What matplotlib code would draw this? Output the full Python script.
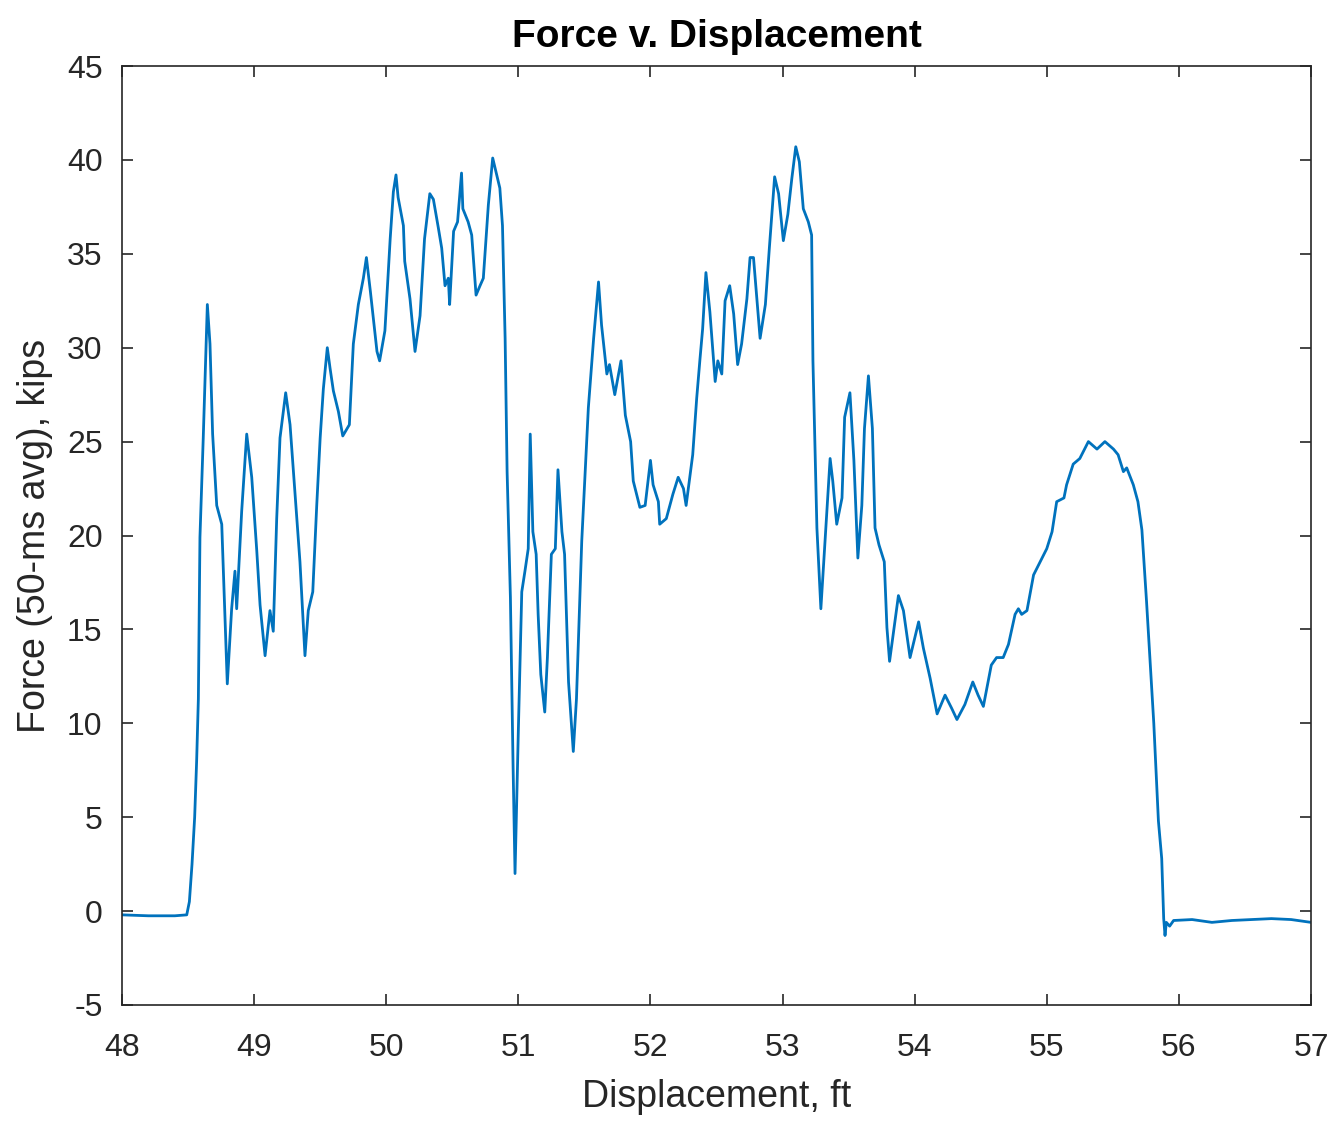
import matplotlib
matplotlib.use("Agg")
import matplotlib.pyplot as plt

# displacement (ft) and force (kips, 50-ms avg)
disp_ft = [
    48.0, 48.2, 48.4, 48.49, 48.51, 48.53, 48.55, 48.565, 48.578, 48.59,
    48.615, 48.646, 48.666, 48.686, 48.717, 48.755, 48.797, 48.83, 48.855, 48.868,
    48.906, 48.944, 48.982, 49.02, 49.045, 49.083, 49.12, 49.145, 49.171, 49.196,
    49.239, 49.272, 49.31, 49.347, 49.385, 49.41, 49.444, 49.474, 49.5, 49.524,
    49.554, 49.575, 49.6, 49.638, 49.671, 49.721, 49.751, 49.789, 49.827, 49.85,
    49.88, 49.93, 49.95, 49.99, 50.03, 50.054, 50.074, 50.09, 50.13, 50.14,
    50.18, 50.218, 50.256, 50.29, 50.33, 50.357, 50.394, 50.42, 50.445, 50.47,
    50.48, 50.51, 50.54, 50.57, 50.58, 50.62, 50.647, 50.68, 50.71, 50.735,
    50.773, 50.806, 50.836, 50.86, 50.88, 50.9, 50.915, 50.94, 50.96, 50.975,
    51.0, 51.026, 51.05, 51.075, 51.09, 51.11, 51.135, 51.15, 51.17, 51.2,
    51.22, 51.25, 51.28, 51.3, 51.33, 51.35, 51.38, 51.416, 51.44, 51.467,
    51.48, 51.505, 51.53, 51.57, 51.607, 51.63, 51.67, 51.69, 51.73, 51.777,
    51.81, 51.85, 51.87, 51.92, 51.96, 52.0, 52.02, 52.06, 52.07, 52.12,
    52.17, 52.21, 52.25, 52.27, 52.32, 52.35, 52.375, 52.395, 52.42, 52.45,
    52.49, 52.51, 52.54, 52.565, 52.6, 52.63, 52.66, 52.69, 52.73, 52.754,
    52.78, 52.83, 52.87, 52.9, 52.94, 52.97, 53.006, 53.04, 53.07, 53.1,
    53.127, 53.157, 53.195, 53.22, 53.23, 53.26, 53.29, 53.32, 53.36, 53.38,
    53.41, 53.45, 53.47, 53.51, 53.54, 53.57, 53.6, 53.62, 53.65, 53.68,
    53.7, 53.73, 53.77, 53.79, 53.81, 53.877, 53.915, 53.965, 54.03, 54.066,
    54.117, 54.17, 54.23, 54.28, 54.32, 54.38, 54.44, 54.48, 54.52, 54.58,
    54.62, 54.67, 54.71, 54.76, 54.785, 54.81, 54.85, 54.9, 54.95, 55.0,
    55.04, 55.075, 55.13, 55.15, 55.2, 55.25, 55.315, 55.38, 55.44, 55.505,
    55.54, 55.58, 55.605, 55.655, 55.69, 55.72, 55.755, 55.78, 55.81, 55.845,
    55.87, 55.885, 55.895, 55.905, 55.93, 55.96, 56.1, 56.25, 56.4, 56.7,
    56.85, 57.0,
]
force_kips = [
    -0.2, -0.25, -0.25, -0.2, 0.5, 2.5, 5.0, 8.0, 11.3, 19.9,
    25.2, 32.3, 30.2, 25.4, 21.6, 20.6, 12.1, 16.1, 18.1, 16.1,
    21.3, 25.4, 23.1, 19.2, 16.3, 13.6, 16.0, 14.9, 20.9, 25.2,
    27.6, 25.9, 22.2, 18.6, 13.6, 16.0, 17.0, 21.6, 25.2, 27.8,
    30.0, 28.9, 27.7, 26.6, 25.3, 25.9, 30.2, 32.3, 33.7, 34.8,
    33.0, 29.8, 29.3, 30.9, 35.8, 38.3, 39.2, 38.0, 36.5, 34.6,
    32.6, 29.8, 31.7, 35.8, 38.2, 37.9, 36.4, 35.3, 33.3, 33.7,
    32.3, 36.2, 36.7, 39.3, 37.4, 36.7, 36.0, 32.8, 33.3, 33.7,
    37.6, 40.1, 39.2, 38.5, 36.5, 30.5, 23.4, 16.7, 7.8, 2.0,
    9.6, 17.0, 18.1, 19.3, 25.4, 20.2, 19.0, 15.8, 12.6, 10.6,
    13.5, 19.0, 19.3, 23.5, 20.2, 19.0, 12.2, 8.5, 11.3, 17.0,
    19.7, 23.2, 26.8, 30.5, 33.5, 31.2, 28.6, 29.1, 27.5, 29.3,
    26.4, 25.0, 22.9, 21.5, 21.6, 24.0, 22.7, 21.8, 20.6, 20.9,
    22.2, 23.1, 22.5, 21.6, 24.3, 27.3, 29.4, 31.0, 34.0, 31.9,
    28.2, 29.3, 28.6, 32.5, 33.3, 31.8, 29.1, 30.2, 32.6, 34.8,
    34.8, 30.5, 32.3, 35.3, 39.1, 38.2, 35.7, 37.1, 39.0, 40.7,
    39.9, 37.4, 36.7, 36.0, 29.3, 20.4, 16.1, 19.5, 24.1, 22.9,
    20.6, 22.0, 26.3, 27.6, 24.0, 18.8, 21.6, 25.7, 28.5, 25.7,
    20.4, 19.5, 18.6, 15.1, 13.3, 16.8, 16.0, 13.5, 15.4, 14.0,
    12.4, 10.5, 11.5, 10.8, 10.2, 11.0, 12.2, 11.5, 10.9, 13.1,
    13.5, 13.5, 14.2, 15.8, 16.1, 15.8, 16.0, 17.9, 18.6, 19.3,
    20.2, 21.8, 22.0, 22.7, 23.8, 24.1, 25.0, 24.6, 25.0, 24.6,
    24.3, 23.4, 23.6, 22.7, 21.8, 20.3, 16.5, 13.5, 10.0, 4.8,
    2.8, -0.4, -1.3, -0.6, -0.8, -0.5, -0.45, -0.6, -0.5, -0.4,
    -0.45, -0.6,
]
x_ticks = [48, 49, 50, 51, 52, 53, 54, 55, 56, 57]
y_ticks = [-5, 0, 5, 10, 15, 20, 25, 30, 35, 40, 45]

plt.rcParams['font.family'] = ['Liberation Sans', 'DejaVu Sans']
plt.rcParams['axes.unicode_minus'] = False
text_color = '#262626'

fig = plt.figure(figsize=(13.35, 11.24), dpi=100)
ax = fig.add_axes([122 / 1335, 1 - 1005 / 1124, (1311 - 122) / 1335, (1005 - 66) / 1124])

ax.plot(disp_ft, force_kips, color='#0072BD', linewidth=2.0,
        solid_joinstyle='round', solid_capstyle='round')

ax.set_xlim(48, 57)
ax.set_ylim(-5, 45)
ax.set_xticks(x_ticks)
ax.set_yticks(y_ticks)
ax.tick_params(direction='in', top=True, right=True, length=8, width=1.2,
               colors=text_color, labelsize=23)
ax.tick_params(axis='x', pad=20)
ax.tick_params(axis='y', pad=14)
for spine in ax.spines.values():
    spine.set_color(text_color)
    spine.set_linewidth(1.2)

ax.set_xlabel('Displacement, ft', fontsize=27, color=text_color, labelpad=12)
ax.set_ylabel('Force (50-ms avg), kips', fontsize=27, color=text_color, labelpad=10)
ax.set_title('Force v. Displacement', fontsize=28, fontweight='bold', color='black', pad=14)

fig.savefig('out.png', dpi=100)
plt.close(fig)
